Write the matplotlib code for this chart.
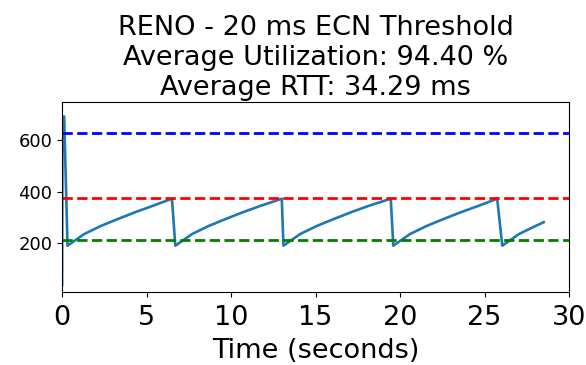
import matplotlib
matplotlib.use("Agg")
from matplotlib import pyplot as plt

# RTT-like series (time in s, value)
time_s = [0.0, 0.02, 0.12, 0.32,
          1.32, 2.32, 3.32, 4.32, 5.32, 6.5, 6.7,
          7.7, 8.7, 9.7, 10.7, 11.7, 13.0, 13.1,
          14.1, 15.1, 16.1, 17.1, 18.1, 19.45, 19.6,
          20.6, 21.6, 22.6, 23.6, 24.6, 25.75, 26.05,
          27.05, 28.05, 28.5]
values = [35, 694, 694, 188,
          234, 266, 293, 319, 343, 372, 188,
          234, 266, 293, 319, 343, 372, 188,
          234, 266, 293, 319, 343, 372, 188,
          234, 266, 293, 319, 343, 372, 188,
          234, 266, 280]

# horizontal reference levels
levels = [629, 376, 209]
level_colors = ["b", "r", "g"]

title_lines = ["RENO - 20 ms ECN Threshold",
               "Average Utilization: 94.40 %",
               "Average RTT: 34.29 ms"]

fig, ax = plt.subplots(figsize=(5.86, 3.65), dpi=100)
fig.subplots_adjust(left=0.106, right=0.971, top=0.72, bottom=0.201)

ax.plot(time_s, values, color="#1f77b4", lw=1.9)
for lv, c in zip(levels, level_colors):
    ax.axhline(lv, color=c, ls="--", lw=2)

ax.set_xlim(0, 30)
ax.set_ylim(8, 750)
ax.set_xticks([0, 5, 10, 15, 20, 25, 30])
ax.set_yticks([200, 400, 600])
ax.tick_params(axis="x", labelsize=19.5, pad=6)
ax.tick_params(axis="y", labelsize=13)
ax.set_xlabel("Time (seconds)", fontsize=19.5, labelpad=5)
ax.set_title("\n".join(title_lines), fontsize=19.5, pad=5)

fig.savefig("out.png", dpi=100)
